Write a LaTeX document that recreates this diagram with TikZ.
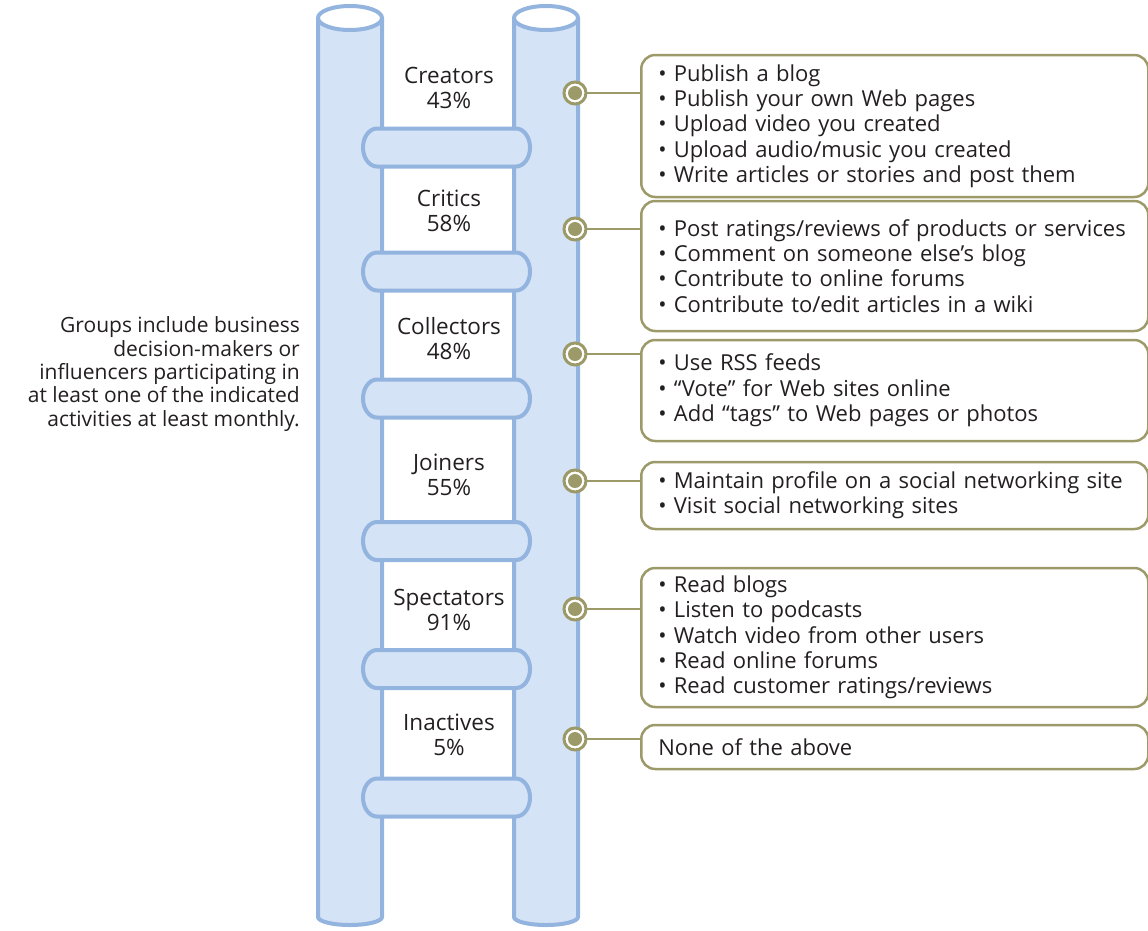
\documentclass[tikz,border=0pt]{standalone}
\usepackage{fontspec}
\setmainfont{Open Sans}
\definecolor{polefill}{RGB}{212,227,245}
\definecolor{poleline}{RGB}{146,180,222}
\definecolor{boxline}{RGB}{156,154,104}
\definecolor{txt}{RGB}{35,31,32}
\begin{document}
\begin{tikzpicture}[x=1pt,y=-1pt,
  pole/.style={fill=polefill,draw=poleline,line width=4pt},
  rung/.style={fill=polefill,draw=poleline,line width=4pt},
  grouplabel/.style={align=center,text=txt,font=\fontsize{22.5}{25}\selectfont,inner sep=0pt},
  infobox/.style={draw=boxline,line width=2.5pt,rounded corners=14pt,text width=473pt,inner xsep=17pt,inner ysep=0pt,align=left,text=txt,font=\fontsize{22}{25.3}\selectfont,anchor=west},
  dotring/.style={circle,draw=boxline,line width=3pt,fill=white,minimum size=22pt,inner sep=0pt},
  dotcore/.style={circle,fill=boxline,minimum size=14pt,inner sep=0pt},
  conn/.style={draw=boxline,line width=2.5pt},
  note/.style={align=right,text=txt,font=\fontsize{21}{23.3}\selectfont,inner sep=0pt,anchor=east}]
\useasboundingbox (0,0) rectangle (1148,930);
% poles
\foreach \cx in {350,546}{
  \path[pole] (\cx-32,18) -- (\cx-32,917) arc[start angle=180,end angle=0,x radius=32,y radius=8] -- (\cx+32,18);
  \path[pole,fill=white] (\cx,18) ellipse[x radius=32,y radius=12];
}
% rungs
\foreach \cy in {147.5,271.5,398.5,541,669,797.5}{
  \path[rung] (377,\cy-19) -- (516,\cy-19) arc[start angle=-90,end angle=90,x radius=14,y radius=19] -- (377,\cy+19) arc[start angle=90,end angle=270,x radius=14,y radius=19] -- cycle;
}
% group labels
\node[grouplabel] (g1) at (449,88) {Creators\\43\%};
\node[grouplabel] (g2) at (449,211) {Critics\\58\%};
\node[grouplabel] (g3) at (449,339) {Collectors\\48\%};
\node[grouplabel] (g4) at (449,475) {Joiners\\55\%};
\node[grouplabel] (g5) at (449,610) {Spectators\\91\%};
\node[grouplabel] (g6) at (449,735) {Inactives\\5\%};
% note
\node[note] (note) at (300,374) {Groups include business\\decision-makers or\\influencers participating in\\at least one of the indicated\\activities at least monthly.};
% boxes
\node[infobox,minimum height=142pt] (b1) at (640,126) {• Publish a blog\\• Publish your own Web pages\\• Upload video you created\\• Upload audio/music you created\\• Write articles or stories and post them};
\node[infobox,minimum height=130pt] (b2) at (640,266) {• Post ratings/reviews of products or services\\• Comment on someone else’s blog\\• Contribute to online forums\\• Contribute to/edit articles in a wiki};
\node[infobox,minimum height=101pt] (b3) at (640,390.5) {• Use RSS feeds\\• “Vote” for Web sites online\\• Add “tags” to Web pages or photos};
\node[infobox,minimum height=67pt] (b4) at (640,495.5) {• Maintain profile on a social networking site\\• Visit social networking sites};
\node[infobox,minimum height=139pt] (b5) at (640,637.5) {• Read blogs\\• Listen to podcasts\\• Watch video from other users\\• Read online forums\\• Read customer ratings/reviews};
\node[infobox,minimum height=44pt] (b6) at (640,747) {None of the above};
% dots and connectors
\foreach \i/\y in {1/93,2/229,3/354,4/481,5/609,6/739}{
  \draw[conn] (575,\y) -- (b\i.west |- 575,\y);
  \node[dotring] (d\i) at (575,\y) {};
  \node[dotcore] (c\i) at (d\i) {};
}
\end{tikzpicture}
\end{document}
